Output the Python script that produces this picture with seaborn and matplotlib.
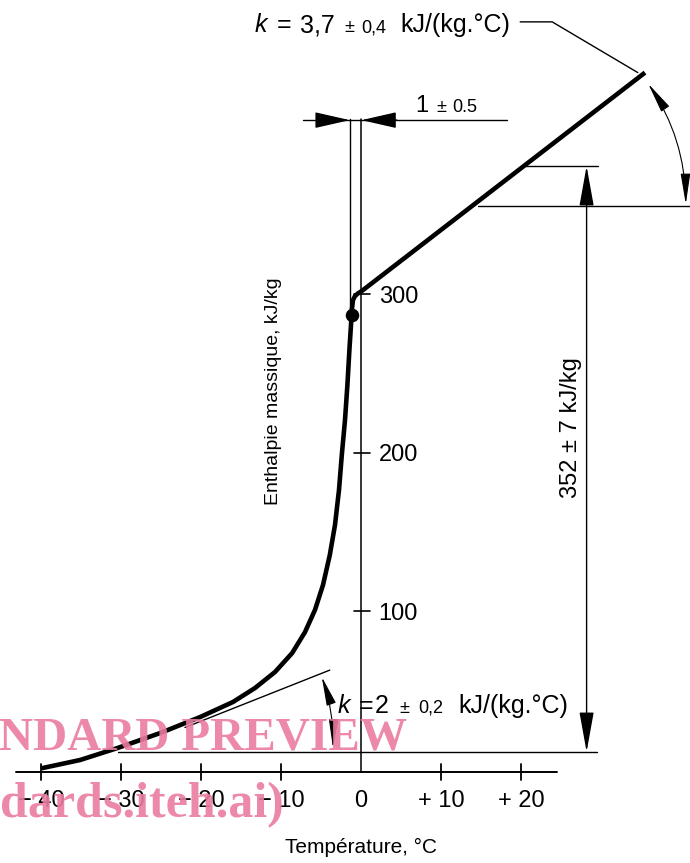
import matplotlib
matplotlib.use("Agg")
import matplotlib.pyplot as plt
from matplotlib import transforms
import seaborn as sns

# enthalpy curve (temperature in degC, enthalpy in kJ/kg)
temperature = [-40, -35.1, -30.4, -25.1, -20.1, -16, -13.25, -10.75, -8.6, -7.0, -5.75,
               -4.75, -3.9, -3.25, -2.75, -2.4, -2.0, -1.7, -1.45, -1.25, -1.15, -1.0,
               -0.75, -0.4, 0.1, 35.5]
enthalpy = [1, 6.3, 13.9, 23.3, 33.4, 42.9, 51.7, 61.8, 73.8, 87, 101,
            116.7, 135.6, 154.6, 176.7, 198.7, 220.8, 242.9, 265, 280.8, 290, 296.5,
            299, 300.6, 302.2, 440]

# initial freezing point (dot on the curve)
freeze_t = [-1.15]
freeze_h = [287]

x_ticks = [-40, -30, -20, -10, 10, 20]
x_label_pos = [-40, -30, -20, -10, 0, 10, 20]
x_labels = ["− 40", "− 30", "− 20", "− 10", "0", "+ 10", "+ 20"]
y_ticks = [100, 200, 300]
y_labels = ["100", "200", "300"]

INK = "black"
PINK = "#ea7ca0"


def text_run(ax, x, y, pieces, **kw):
    """Write several text pieces one after the other on the same baseline."""
    fig = ax.figure
    renderer = fig.canvas.get_renderer()
    px = fig.dpi / 72.0
    dx = 0.0
    for s, size, gap, rise, style in pieces:
        dx += gap * px
        tr = transforms.offset_copy(ax.transData, x=dx, y=rise * px, units="dots")
        t = ax.text(x, y, s, fontsize=size, fontstyle=style, transform=tr,
                    ha="left", va="baseline", color=INK, **kw)
        dx += t.get_window_extent(renderer).width


def arrow(ax, tip, tail, style, scale=10, rad=0.0, lw=1.0):
    ax.annotate("", xy=tip, xytext=tail,
                arrowprops=dict(arrowstyle=style, mutation_scale=scale, color=INK, lw=lw,
                                shrinkA=0, shrinkB=0,
                                connectionstyle=f"arc3,rad={rad}"))


sns.set_style("white")
plt.rcParams["font.family"] = ["Liberation Sans", "DejaVu Sans"]

fig = plt.figure(figsize=(6.9, 8.63), dpi=100)
ax = fig.add_axes([0, 0, 1, 1])
ax.set_xlim(-45.125, 41.125)
ax.set_ylim(-58.7, 485.8)
ax.axis("off")

thin = 1.0
axis_h = -1.3

# axes drawn as in the technical drawing
ax.plot([-43.1, 24.5], [axis_h, axis_h], color=INK, lw=1.4)
ax.plot([0, 0], [axis_h, 411], color=INK, lw=1.1)
for t in x_ticks:
    ax.plot([t, t], [axis_h - 5, axis_h + 5], color=INK, lw=1.3)
for t, lab in zip(x_label_pos, x_labels):
    ax.text(t, -23.3, lab, fontsize=17, ha="center", va="baseline", color=INK)
for h, lab in zip(y_ticks, y_labels):
    ax.plot([-0.9, 1.1], [h, h], color=INK, lw=1.2)
    ax.text(2.2, h - 5.3, lab, fontsize=17, ha="left", va="baseline", color=INK)

ax.text(-11.0, 239, "Enthalpie massique, kJ/kg", rotation=90, fontsize=14,
        ha="center", va="center", color=INK)
ax.text(0.06, -52.4, "Température, °C", fontsize=15, ha="center", va="baseline", color=INK)

# main curve
sns.lineplot(x=temperature, y=enthalpy, sort=False, color=INK, lw=3.3, ax=ax,
             solid_capstyle="butt", solid_joinstyle="round")
sns.scatterplot(x=freeze_t, y=freeze_h, color=INK, s=95, ax=ax, zorder=5, linewidth=0)

# 1 +/- 0.5 dimension at the top
ax.plot([-1.4, -1.4], [287, 411], color=INK, lw=thin)
ax.plot([-7.25, 18.25], [410, 410], color=INK, lw=thin)
arrow(ax, (-1.4, 410), (-5.2, 410), "-|>,head_length=2.2,head_width=0.5")
arrow(ax, (0.05, 410), (4.5, 410), "-|>,head_length=2.2,head_width=0.5")
text_run(ax, 6.75, 415, [("1", 17, 0, 0, "normal"),
                          ("±", 13, 6, 0, "normal"),
                          ("0.5", 13, 4, 0, "normal")])

# k = 3,7 slope annotation
text_run(ax, -13.25, 465.6, [("k", 18, 0, 0, "italic"),
                              ("=", 18, 7, 0, "normal"),
                              ("3,7", 18, 6, 0, "normal"),
                              ("±", 13, 7, 0, "normal"),
                              ("0,4", 13, 5, 0, "normal"),
                              ("kJ/(kg.°C)", 18, 10, 0, "normal")])
ax.plot([19.9, 23.9, 34.6], [472, 472, 440], color=INK, lw=thin)
ax.plot([14.6, 41.2], [356, 356], color=INK, lw=thin)
arrow(ax, (40.6, 357), (35.9, 433), "<|-|>,head_length=1.9,head_width=0.3", rad=-0.15, lw=0.8)

# 352 +/- 7 kJ/kg dimension
ax.plot([20.5, 29.6], [381, 381], color=INK, lw=thin)
ax.plot([-30.4, 29.5], [11.4, 11.4], color=INK, lw=thin)
arrow(ax, (28.2, 11.4), (28.2, 381), "<|-|>,head_length=2.5,head_width=0.45", lw=thin)
ax.text(26.2, 216, "352 ± 7 kJ/kg", rotation=90, fontsize=17, ha="center", va="center", color=INK)

# k = 2 tangent and slope annotation
ax.plot([-22, -3.9], [26.8, 63], color=INK, lw=thin)
arrow(ax, (-3.5, 13.9), (-4.9, 58.7), "<|-|>,head_length=1.8,head_width=0.3", rad=-0.09, lw=0.8)
text_run(ax, -2.9, 36, [("k", 18, 0, 0, "italic"),
                         ("=", 18, 6, 0, "normal"),
                         ("2", 18, 1, 0, "normal"),
                         ("±", 13, 8, 0, "normal"),
                         ("0,2", 13, 6, 0, "normal"),
                         ("kJ/(kg.°C)", 18, 11, 0, "normal")])

# preview watermark printed over the drawing
ax.text(-45.3, 12.6, "NDARD PREVIEW", family="Liberation Serif", weight="bold",
        fontsize=34, color=PINK, alpha=0.9, ha="left", va="baseline", zorder=10)
ax.text(-45.1, -29.7, "dards.iteh.ai)", family="Liberation Serif", weight="bold",
        fontsize=36, color=PINK, alpha=0.9, ha="left", va="baseline", zorder=10)

fig.savefig("out.png", dpi=100, facecolor="white")
